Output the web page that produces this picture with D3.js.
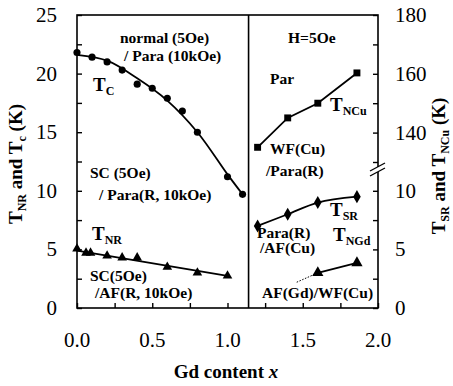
<!DOCTYPE html>
<html>
<head>
<meta charset="utf-8">
<script src="https://cdn.jsdelivr.net/npm/d3@7"></script>
</head>
<body style="margin:0">
<svg width="453" height="386"></svg>
<script>
// T_C (circles) and its fitted curve
var tcX = [0, 0.1, 0.2, 0.3, 0.4, 0.5, 0.6, 0.7, 0.8, 1.0, 1.1];
var tcY = [21.8, 21.4, 21.0, 20.3, 19.1, 18.75, 17.9, 16.8, 15.0, 11.2, 9.7];
var tcFitX = [0, 0.2, 0.4, 0.6, 0.8, 1.0, 1.1];
var tcFitY = [21.6, 21.1, 19.6, 17.7, 15.0, 11.4, 9.7];

// T_NR (triangles) and fitted line
var tnrX = [0, 0.06, 0.09, 0.2, 0.3, 0.4, 0.6, 0.8, 1.0];
var tnrY = [5.05, 4.7, 4.7, 4.45, 4.3, 4.3, 3.5, 3.0, 2.75];
var tnrFitX = [0, 1.0];
var tnrFitY = [4.9, 2.75];

// right panel
var rightX = [1.2, 1.4, 1.6, 1.86];
var tncuY = [135, 145, 150, 160.3];   // upper right scale
var tsrY = [7.0, 8.0, 9.0, 9.5];        // lower right scale
var tngdX = [1.6, 1.86];
var tngdY = [3.0, 3.85];
var tngdDotX = [1.46, 1.6];
var tngdDotY = [2.2, 3.0];

var xTicks = [0, 0.5, 1.0, 1.5, 2.0];
var leftTicks = [0, 5, 10, 15, 20, 25];
var rightLowTicks = [0, 5, 10];
var rightHighTicks = [140, 160, 180];
var dividerX = 1.14;

var L = 77, R = 378, T = 15, B = 308;
var FONT = "'Liberation Serif'";

var svg = d3.select("svg");

var x = d3.scaleLinear().domain([0, 2]).range([L, R]);
var y = d3.scaleLinear().domain([0, 25]).range([B, T]);
var yHi = d3.scaleLinear().domain([130, 180]).range([162, T]);

// text helper: one font name only, set as inline style
function txt(tx, ty, size, bold) {
	var t = svg.append("text").attr("x", tx).attr("y", ty)
		.style("font-family", FONT).attr("font-size", size);
	if (bold) t.attr("font-weight", "bold");
	return t;
}

// tick labels
xTicks.forEach(d => txt(x(d), 347, 21).attr("text-anchor", "middle").text(d.toFixed(1)));
leftTicks.forEach(d => txt(57, y(d) + 7, 21).attr("text-anchor", "end").text(d));
rightLowTicks.forEach(d => txt(395, y(d) + 7, 21).text(d));
rightHighTicks.forEach(d => txt(395, yHi(d) + 7, 21).text(d));

// annotations
function ann(tx, ty, str) { txt(tx, ty, 15.5, true).text(str); }
ann(120, 43, "normal (5Oe)");
ann(124, 61, "/ Para (10kOe)");
ann(90, 178, "SC (5Oe)");
ann(99, 200, "/ Para(R, 10kOe)");
ann(90, 281, "SC(5Oe)");
ann(95, 298, "/AF(R, 10kOe)");
ann(288, 43, "H=5Oe");
ann(270, 84, "Par");
ann(270, 154, "WF(Cu)");
ann(266, 176, "/Para(R)");
ann(257, 238, "Para(R)");
ann(260, 253, "/AF(Cu)");
ann(262, 298, "AF(Gd)/WF(Cu)");

function tsub(tx, ty, main, sub) {
	var t = txt(tx, ty, 19, true);
	t.append("tspan").text(main);
	t.append("tspan").attr("font-size", 12).attr("dy", 4).text(sub);
}
tsub(93, 91, "T", "C");
tsub(92, 240, "T", "NR");
tsub(330, 111, "T", "NCu");
tsub(330, 216, "T", "SR");
tsub(333, 241, "T", "NGd");

// axis titles
var xt = txt(226, 378, 19, true).attr("text-anchor", "middle");
xt.append("tspan").text("Gd content ");
xt.append("tspan").attr("font-style", "italic").text("x");

// parts: [text, isSub]
function ytitle(cx, cy, parts) {
	var t = txt(0, 0, 19, true).attr("transform", `translate(${cx},${cy}) rotate(-90)`)
		.attr("text-anchor", "middle");
	var prevSub = false;
	parts.forEach(p => {
		var s = t.append("tspan").text(p[0]);
		if (p[1]) s.attr("font-size", 12).attr("dy", 4);
		else if (prevSub) s.attr("dy", -4);
		prevSub = !!p[1];
	});
}
ytitle(22, 164, [["T"], ["NR", 1], [" and T"], ["c", 1], [" (K)"]]);
ytitle(445, 166, [["T"], ["SR", 1], [" and T"], ["NCu", 1], [" (K)"]]);

// frame
svg.append("rect").attr("x", L).attr("y", T).attr("width", R - L).attr("height", B - T)
	.attr("fill", "none").attr("stroke", "#000").attr("stroke-width", 1.6);
svg.append("line").attr("x1", x(dividerX)).attr("x2", x(dividerX)).attr("y1", T).attr("y2", B)
	.attr("stroke", "#000").attr("stroke-width", 1.6);

// axes, ticks pointing inward (no labels)
var gx = svg.append("g").attr("transform", `translate(0,${B})`)
	.call(d3.axisBottom(x).tickValues(d3.range(0, 2.01, 0.25)).tickSize(-5).tickFormat(""));
var gl = svg.append("g").attr("transform", `translate(${L},0)`)
	.call(d3.axisLeft(y).tickValues(d3.range(0, 25.1, 2.5)).tickSize(-5).tickFormat(""));
var gr1 = svg.append("g").attr("transform", `translate(${R},0)`)
	.call(d3.axisRight(y).tickValues([0, 2.5, 5, 7.5, 10]).tickSize(-5).tickFormat(""));
var gr2 = svg.append("g").attr("transform", `translate(${R},0)`)
	.call(d3.axisRight(yHi).tickValues([130, 140, 150, 160, 170, 180]).tickSize(-5).tickFormat(""));
[gx, gl, gr1, gr2].forEach(g => {
	g.attr("font-family", null).attr("font-size", null);
	g.select(".domain").remove();
	g.selectAll("text").remove();
	g.selectAll("line").attr("stroke", "#000").attr("stroke-width", 1.4);
});

// axis break on right axis
svg.append("rect").attr("x", R - 2).attr("y", 167).attr("width", 4).attr("height", 5).attr("fill", "#fff");
[0, 5].forEach(dy => {
	svg.append("line").attr("x1", R - 8).attr("y1", 171 + dy).attr("x2", R + 7).attr("y2", 163 + dy)
		.attr("stroke", "#000").attr("stroke-width", 1.3);
});

// lines
var line = d3.line().x(d => x(d[0])).y(d => d[1]);
function pts(xs, ys, sc) { return xs.map((v, i) => [v, sc(ys[i])]); }
function draw(xs, ys, sc, curve, w, dash) {
	var p = svg.append("path").attr("d", line.curve(curve)(pts(xs, ys, sc)))
		.attr("fill", "none").attr("stroke", "#000").attr("stroke-width", w);
	if (dash) p.attr("stroke-dasharray", dash);
}
draw(tcFitX, tcFitY, y, d3.curveCatmullRom, 1.8);
draw(tnrFitX, tnrFitY, y, d3.curveLinear, 1.8);
draw(rightX, tncuY, yHi, d3.curveLinear, 1.8);
draw(rightX, tsrY, y, d3.curveCatmullRom, 1.8);
draw(tngdX, tngdY, y, d3.curveLinear, 1.8);
draw(tngdDotX, tngdDotY, y, d3.curveLinear, 1, "1.5,1.5");

// markers
function marks(xs, ys, sc, type, size) {
	svg.append("g").selectAll("path").data(xs).enter().append("path")
		.attr("transform", (d, i) => `translate(${x(d)},${sc(ys[i])})`)
		.attr("d", d3.symbol().type(type).size(size)).attr("fill", "#000");
}
marks(tcX, tcY, y, d3.symbolCircle, 40);
marks(tnrX, tnrY, y, d3.symbolTriangle, 40);
marks(rightX, tncuY, yHi, d3.symbolSquare, 48);
marks(rightX, tsrY, y, d3.symbolDiamond, 50);
marks(tngdX, tngdY, y, d3.symbolTriangle, 55);
</script>
</body>
</html>
